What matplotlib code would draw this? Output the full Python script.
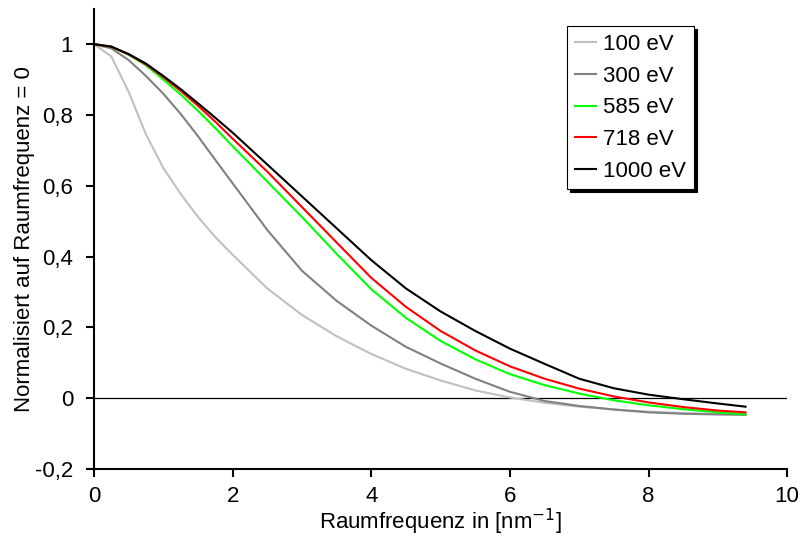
import matplotlib
matplotlib.use("Agg")
import matplotlib.pyplot as plt
from matplotlib.ticker import FuncFormatter

# Raumfrequenz in 1/nm
x = [0, 0.25, 0.5, 0.75, 1, 1.25, 1.5, 1.75, 2, 2.5, 3, 3.5, 4, 4.5, 5,
     5.5, 6, 6.5, 7, 7.5, 8, 8.5, 9, 9.4]

# normalised values
y_100 = [1.0, 0.965, 0.865, 0.745, 0.65, 0.577, 0.512, 0.455, 0.405, 0.31,
         0.235, 0.175, 0.125, 0.083, 0.05, 0.022, 0.002, -0.013, -0.024,
         -0.032, -0.038, -0.042, -0.044, -0.045]
y_300 = [1.0, 0.988, 0.955, 0.91, 0.86, 0.803, 0.74, 0.673, 0.607, 0.475,
         0.36, 0.275, 0.205, 0.145, 0.098, 0.055, 0.018, -0.008, -0.022,
         -0.032, -0.04, -0.044, -0.046, -0.047]
y_585 = [1.0, 0.993, 0.97, 0.94, 0.9, 0.858, 0.812, 0.763, 0.712, 0.612,
         0.512, 0.408, 0.308, 0.227, 0.162, 0.11, 0.068, 0.037, 0.013,
         -0.006, -0.02, -0.031, -0.04, -0.046]
y_718 = [1.0, 0.993, 0.971, 0.943, 0.907, 0.868, 0.826, 0.781, 0.733, 0.64,
         0.54, 0.44, 0.34, 0.258, 0.19, 0.135, 0.09, 0.055, 0.027, 0.005,
         -0.012, -0.025, -0.035, -0.04]
y_1000 = [1.0, 0.993, 0.972, 0.945, 0.91, 0.873, 0.833, 0.792, 0.75, 0.66,
          0.57, 0.48, 0.39, 0.31, 0.245, 0.19, 0.14, 0.097, 0.055, 0.028,
          0.01, -0.003, -0.015, -0.024]

labels = ["100 eV", "300 eV", "585 eV", "718 eV", "1000 eV"]
colors = ["#c0c0c0", "#808080", "#00ff00", "#ff0000", "#000000"]

plt.rcParams["font.family"] = ["Liberation Sans", "DejaVu Sans"]
plt.rcParams["font.size"] = 16

fig = plt.figure(figsize=(8.05, 5.44), dpi=100)
ax = fig.add_axes([0.1168, 0.1379, 0.861, 0.846])

for ys, lab, col in zip([y_100, y_300, y_585, y_718, y_1000], labels, colors):
    ax.plot(x, ys, color=col, linewidth=1.5, label=lab)

ax.axhline(0, color="black", linewidth=0.9, zorder=1)

ax.set_xlim(0, 10)
ax.set_ylim(-0.2, 1.1)
ax.set_xticks([0, 2, 4, 6, 8, 10])
ax.set_yticks([-0.2, 0, 0.2, 0.4, 0.6, 0.8, 1.0])
ax.yaxis.set_major_formatter(FuncFormatter(lambda v, p: ("%g" % round(v, 1)).replace(".", ",")))

for s in ["top", "right"]:
    ax.spines[s].set_visible(False)
for s in ["left", "bottom"]:
    ax.spines[s].set_linewidth(1.5)
ax.tick_params(direction="out", length=6, width=1.5)
ax.tick_params(axis="x", pad=6)
ax.tick_params(axis="y", pad=9)

ax.set_xlabel("Raumfrequenz in [nm$^{-1}$]", labelpad=0)
ax.set_ylabel("Normalisiert auf Raumfrequenz = 0", labelpad=0)

leg = ax.legend(loc="upper left", bbox_to_anchor=(0.683, 0.962), frameon=True,
                fancybox=False, shadow={"color": "black", "alpha": 1},
                handlelength=0.95, handletextpad=0.3, labelspacing=0.48,
                borderpad=0.35, borderaxespad=0)
leg.get_frame().set_edgecolor("black")
leg.get_frame().set_linewidth(0.8)

fig.savefig("out.png", dpi=100)
